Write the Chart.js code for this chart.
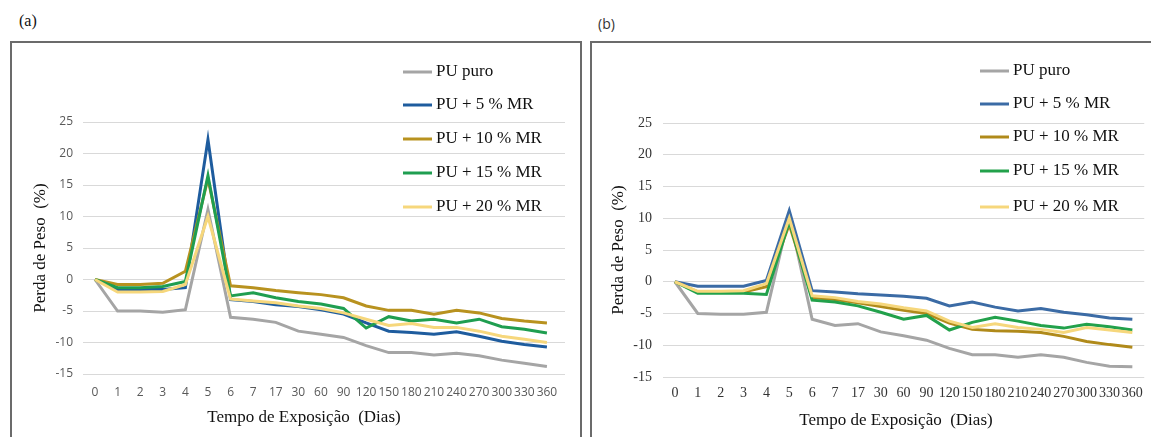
<!DOCTYPE html>
<html>
<head>
<meta charset="utf-8">
<script src="https://cdn.jsdelivr.net/npm/chart.js@4.4.1/dist/chart.umd.min.js"></script>
<style>
  body { margin: 0; width: 1151px; height: 437px; background: #fff; overflow: hidden; position: relative; }
  .frame { position: absolute; box-sizing: border-box; border: 2px solid #6b6b6b; }
  .box { position: absolute; }
  .tag { position: absolute; color: #111; }
</style>
</head>
<body>
<div class="tag" style="left:19px; top:12px; font: 16px 'Liberation Serif', serif;">(a)</div>
<div class="tag" style="left:598px; top:14px; font: 14px 'Open Sans', sans-serif; color:#333;">(b)</div>
<div class="frame" style="left:10px; top:41px; width:572px; height:420px;"></div>
<div class="frame" style="left:590px; top:41px; width:600px; height:420px;"></div>
<div class="box" style="left:12px; top:43px; width:568px; height:394px;"><canvas id="chartA"></canvas></div>
<div class="box" style="left:592px; top:43px; width:559px; height:394px;"><canvas id="chartB"></canvas></div>
<script>
// Tempo de exposição (dias)
const days = ['0', '1', '2', '3', '4', '5', '6', '7', '17', '30', '60', '90', '120', '150', '180', '210', '240', '270', '300', '330', '360']
const seriesNames = ['PU puro', 'PU + 5 % MR', 'PU + 10 % MR', 'PU + 15 % MR', 'PU + 20 % MR']

// (a) perda de peso (%)
const puroA = [0, -5, -5, -5.2, -4.8, 11.1, -6, -6.3, -6.8, -8.2, -8.7, -9.2, -10.5, -11.6, -11.6, -12, -11.7, -12.1, -12.8, -13.3, -13.8]
const mr5A = [0, -1.6, -1.6, -1.6, -1.3, 22.2, -3.2, -3.5, -4, -4.3, -4.8, -5.5, -6.9, -8.2, -8.4, -8.7, -8.3, -9, -9.8, -10.3, -10.7]
const mr10A = [0, -0.8, -0.8, -0.6, 1.3, 16, -1, -1.3, -1.75, -2.1, -2.4, -2.9, -4.2, -4.9, -4.9, -5.5, -4.9, -5.3, -6.2, -6.6, -6.9]
const mr15A = [0, -1.3, -1.3, -1.1, -0.3, 16.5, -2.6, -2.1, -2.9, -3.5, -3.9, -4.6, -7.7, -5.9, -6.6, -6.3, -6.9, -6.3, -7.5, -7.9, -8.5]
const mr20A = [0, -2, -2, -1.9, -0.8, 10, -3.1, -3.4, -3.7, -4.2, -4.6, -5.3, -6.3, -7.3, -7, -7.6, -7.6, -8.2, -9, -9.5, -10]

// (b) perda de peso (%)
const puroB = [0, -5, -5.1, -5.1, -4.8, 10.5, -5.9, -6.9, -6.6, -7.9, -8.5, -9.2, -10.5, -11.5, -11.5, -11.9, -11.5, -11.9, -12.7, -13.3, -13.4]
const mr5B = [0, -0.7, -0.7, -0.7, 0.2, 11.2, -1.4, -1.6, -1.9, -2.1, -2.3, -2.6, -3.8, -3.2, -4, -4.6, -4.2, -4.8, -5.2, -5.7, -5.9]
const mr10B = [0, -1.6, -1.6, -1.6, -0.8, 9, -2.5, -2.8, -3.3, -3.9, -4.5, -5, -6.5, -7.5, -7.7, -7.8, -8, -8.6, -9.4, -9.9, -10.3]
const mr15B = [0, -1.8, -1.8, -1.8, -2, 9.5, -2.9, -3.2, -3.8, -4.8, -5.9, -5.3, -7.6, -6.4, -5.6, -6.2, -6.9, -7.3, -6.7, -7.1, -7.6]
const mr20B = [0, -1.5, -1.5, -1.4, -0.3, 10, -2.2, -2.5, -3.1, -3.5, -4.1, -4.6, -6.2, -7.2, -6.6, -7.2, -7.5, -8, -7.2, -7.6, -8]

const colorsA = ['#a5a5a5', '#1e5c9e', '#b8921f', '#1f9e50', '#f6d77c']
const colorsB = ['#a5a5a5', '#3b6ba5', '#b08a1a', '#22a14b', '#f6d77c']

const SERIF = "'Liberation Serif', 'Times New Roman', serif"

// legend inside the plot + x axis title, drawn where the original has them
const panelDecor = {
  id: 'panelDecor',
  afterDraw(chart, args, opts) {
    const ctx = chart.ctx
    ctx.save()
    ctx.font = '17px ' + SERIF
    ctx.textBaseline = 'middle'
    chart.data.datasets.forEach((ds, i) => {
      const y = opts.rows[i]
      ctx.strokeStyle = ds.borderColor
      ctx.lineWidth = 3
      ctx.beginPath()
      ctx.moveTo(opts.lineX, y)
      ctx.lineTo(opts.lineX + 29, y)
      ctx.stroke()
      ctx.fillStyle = '#111'
      ctx.textAlign = 'left'
      ctx.fillText(ds.label, opts.lineX + 33, y)
    })
    ctx.textAlign = 'center'
    ctx.fillStyle = '#111'
    ctx.fillText('Tempo de Exposição  (Dias)', opts.titleX, opts.titleY)
    ctx.restore()
  }
}

function makeChart(id, values, colors, cfg) {
  const datasets = values.map((vals, i) => ({
    label: seriesNames[i],
    data: vals.map((v, k) => ({ x: k, y: v })),
    borderColor: colors[i],
    backgroundColor: colors[i],
    borderWidth: 3,
    pointRadius: 0,
    tension: 0,
    order: values.length - i
  }))

  return new Chart(document.getElementById(id), {
    type: 'line',
    data: { datasets },
    plugins: [panelDecor],
    options: {
      responsive: true,
      maintainAspectRatio: false,
      animation: false,
      layout: { padding: { top: cfg.top, right: cfg.right, bottom: 0, left: 0 } },
      plugins: {
        legend: { display: false },
        tooltip: { enabled: false },
        panelDecor: { rows: cfg.rows, lineX: cfg.lineX, titleX: cfg.titleX, titleY: cfg.titleY }
      },
      scales: {
        x: {
          type: 'linear',
          min: cfg.xMin,
          max: cfg.xMax,
          afterBuildTicks: scale => { scale.ticks = days.map((d, i) => ({ value: i })) },
          afterFit: scale => { scale.height = cfg.xHeight },
          grid: { display: false, drawTicks: false },
          border: { display: false },
          ticks: {
            autoSkip: false,
            maxRotation: 0,
            padding: cfg.xPad,
            color: cfg.tickColor,
            font: cfg.tickFont,
            callback: value => days[value]
          }
        },
        y: {
          min: -15,
          max: 25,
          afterFit: scale => { scale.width = 71 },
          grid: { color: '#d9d9d9', lineWidth: 1, drawTicks: false },
          border: { display: false },
          ticks: { stepSize: 5, padding: cfg.yPad, color: cfg.tickColor, font: cfg.tickFont },
          title: {
            display: true,
            text: 'Perda de Peso  (%)',
            color: '#111',
            font: { family: SERIF, size: 17 },
            padding: { top: cfg.yTitlePad, bottom: 0 }
          }
        }
      }
    }
  })
}

makeChart('chartA', [puroA, mr5A, mr10A, mr15A, mr20A], colorsA, {
  top: 79, right: 15, xMin: -0.53, xMax: 20.8, xHeight: 63, xPad: 11, yPad: 10, yTitlePad: 18,
  tickColor: '#595959', tickFont: { family: "'Open Sans', sans-serif", size: 12 },
  rows: [29, 62, 96, 130, 164], lineX: 391, titleX: 292, titleY: 375
})

makeChart('chartB', [puroB, mr5B, mr10B, mr15B, mr20B], colorsB, {
  top: 80, right: 6, xMin: -0.52, xMax: 20.52, xHeight: 60, xPad: 8, yPad: 11, yTitlePad: 16,
  tickColor: '#333', tickFont: { family: SERIF, size: 14 },
  rows: [28, 61, 94, 128, 164], lineX: 388, titleX: 304, titleY: 378
})
</script>
</body>
</html>
